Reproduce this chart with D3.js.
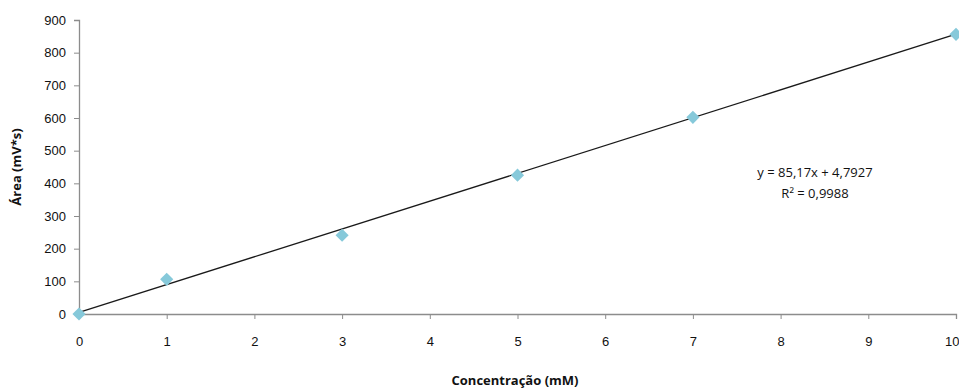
<!DOCTYPE html>
<html>
<head>
<meta charset="utf-8">
<script src="https://cdn.jsdelivr.net/npm/d3@7"></script>
<style>
  html, body { margin: 0; padding: 0; background: #fff; }
  svg { display: block; font-family: "Open Sans", "Noto Sans", sans-serif; }
  .axis path, .axis line { stroke: #8c8c8c; }
  .axis text { fill: #111; font-size: 13px; }
</style>
</head>
<body>
<div id="chart"></div>
<script>
// data
const concentrations = [0, 1, 3, 5, 7, 10];
const areas = [0, 106, 241, 425, 602, 856];
const xTicks = [0, 1, 2, 3, 4, 5, 6, 7, 8, 9, 10];
const yTicks = [0, 100, 200, 300, 400, 500, 600, 700, 800, 900];
const slope = 85.17;
const intercept = 4.7927;
const equationLines = ['y = 85,17x + 4,7927', 'R² = 0,9988'];

const width = 959, height = 388;
const margin = { top: 20, right: 3, bottom: 74, left: 79 };

const svg = d3.select('#chart').append('svg')
  .attr('width', width)
  .attr('height', height);

const x = d3.scaleLinear().domain([0, 10]).range([margin.left, width - margin.right]);
const y = d3.scaleLinear().domain([0, 900]).range([height - margin.bottom, margin.top]);

// axes
const xAxis = svg.append('g')
  .attr('class', 'axis')
  .attr('transform', `translate(0,${y(0)})`)
  .call(d3.axisBottom(x).tickValues(xTicks).tickSize(5).tickPadding(18).tickFormat(d3.format('d')));

// last label sits against the right edge, like the original
xAxis.selectAll('.tick').filter(d => d === 10).select('text')
  .attr('text-anchor', 'end')
  .attr('dx', 3);

svg.append('g')
  .attr('class', 'axis')
  .attr('transform', `translate(${x(0)},0)`)
  .call(d3.axisLeft(y).tickValues(yTicks).tickSize(5).tickPadding(8).tickFormat(d3.format('d')));

svg.selectAll('.axis .domain').attr('stroke-width', 1.3);

// trend line
svg.append('line')
  .attr('x1', x(0)).attr('y1', y(intercept))
  .attr('x2', x(10)).attr('y2', y(slope * 10 + intercept))
  .attr('stroke', '#1a1a1a')
  .attr('stroke-width', 1.3);

// markers
svg.selectAll('path.pt')
  .data(concentrations)
  .enter().append('path')
  .attr('class', 'pt')
  .attr('d', d3.symbol().type(d3.symbolDiamond2).size(110))
  .attr('transform', (d, i) => `translate(${x(d)},${y(areas[i])})`)
  .attr('fill', '#86c9da');

// equation
svg.append('g')
  .selectAll('text')
  .data(equationLines)
  .enter().append('text')
  .attr('x', 815)
  .attr('y', (d, i) => 177 + i * 21)
  .attr('text-anchor', 'middle')
  .attr('font-size', 13)
  .attr('fill', '#111')
  .text(d => d);

// axis titles
svg.append('text')
  .attr('x', 515)
  .attr('y', 385)
  .attr('text-anchor', 'middle')
  .attr('font-size', 13)
  .attr('font-weight', 'bold')
  .attr('fill', '#111')
  .text('Concentração (mM)');

svg.append('text')
  .attr('transform', 'translate(21,167) rotate(-90)')
  .attr('text-anchor', 'middle')
  .attr('font-size', 13)
  .attr('font-weight', 'bold')
  .attr('fill', '#111')
  .text('Área (mV*s)');
</script>
</body>
</html>
